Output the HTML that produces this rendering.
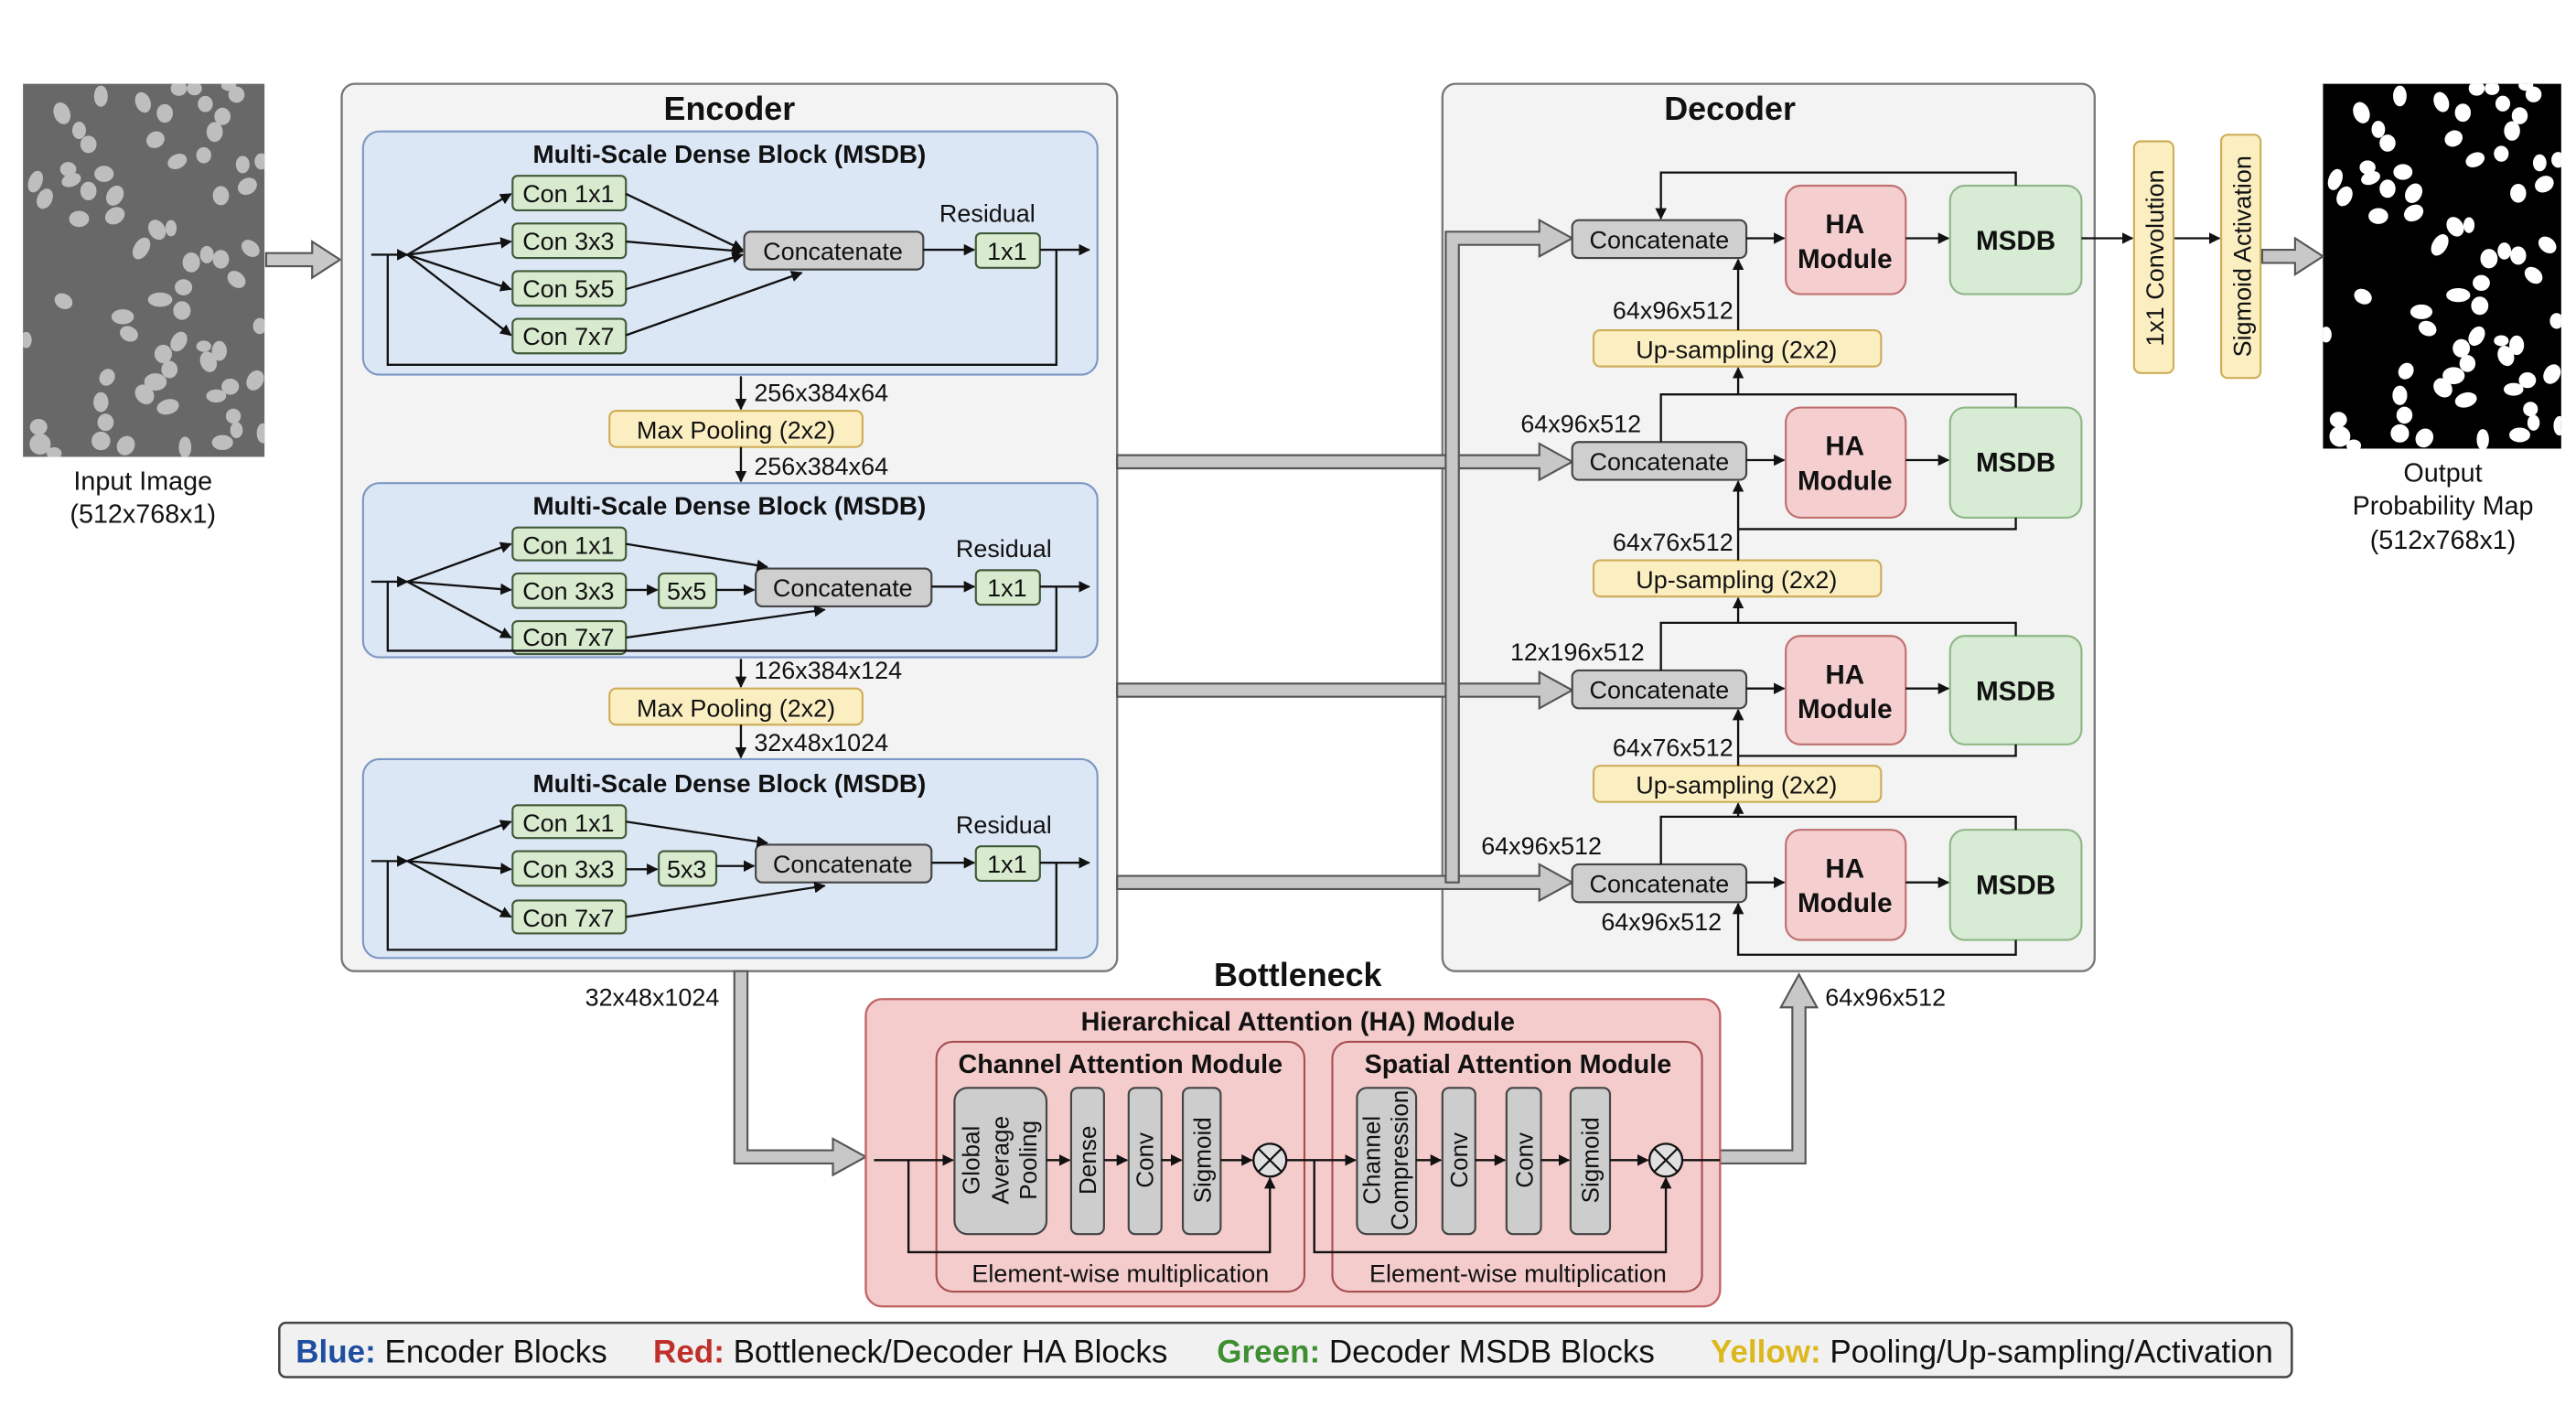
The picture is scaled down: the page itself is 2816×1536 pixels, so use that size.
<!DOCTYPE html>
<html><head><meta charset="utf-8"><style>
html,body{margin:0;padding:0;background:#fff;}
svg{display:block;}
text{font-family:"Liberation Sans",sans-serif;fill:#111;}
.b{font-weight:bold;}
</style></head><body>
<svg width="2816" height="1536" viewBox="0 0 1568 855" preserveAspectRatio="none" xmlns="http://www.w3.org/2000/svg">
<defs>
<marker id="ah" viewBox="0 0 10 10" refX="9" refY="5" markerWidth="7" markerHeight="7" orient="auto-start-reverse" markerUnits="userSpaceOnUse"><path d="M0,0 L10,5 L0,10 z" fill="#111"/></marker>
<g id="cells">
<ellipse cx="185" cy="130" rx="20" ry="30" transform="rotate(-20 185 130)"/>
<ellipse cx="310" cy="75" rx="16" ry="28"/>
<ellipse cx="445" cy="95" rx="18" ry="28" transform="rotate(-20 445 95)"/>
<ellipse cx="515" cy="130" rx="20" ry="24"/>
<ellipse cx="645" cy="100" rx="18" ry="20"/>
<ellipse cx="700" cy="140" rx="20" ry="22"/>
<ellipse cx="745" cy="70" rx="20" ry="20"/>
<ellipse cx="240" cy="185" rx="16" ry="22"/>
<ellipse cx="270" cy="230" rx="20" ry="22"/>
<ellipse cx="485" cy="215" rx="24" ry="20" transform="rotate(-30 485 215)"/>
<ellipse cx="675" cy="190" rx="20" ry="26"/>
<ellipse cx="555" cy="285" rx="26" ry="17" transform="rotate(-25 555 285)"/>
<ellipse cx="640" cy="265" rx="18" ry="20"/>
<ellipse cx="765" cy="295" rx="16" ry="22"/>
<ellipse cx="825" cy="285" rx="16" ry="20"/>
<ellipse cx="100" cy="350" rx="16" ry="30" transform="rotate(20 100 350)"/>
<ellipse cx="205" cy="310" rx="20" ry="17"/>
<ellipse cx="215" cy="345" rx="26" ry="15" transform="rotate(-20 215 345)"/>
<ellipse cx="320" cy="325" rx="25" ry="20"/>
<ellipse cx="270" cy="380" rx="20" ry="24"/>
<ellipse cx="355" cy="395" rx="20" ry="28" transform="rotate(30 355 395)"/>
<ellipse cx="130" cy="405" rx="18" ry="28" transform="rotate(25 130 405)"/>
<ellipse cx="355" cy="460" rx="20" ry="27" transform="rotate(60 355 460)"/>
<ellipse cx="240" cy="470" rx="26" ry="20"/>
<ellipse cx="695" cy="395" rx="20" ry="25"/>
<ellipse cx="780" cy="365" rx="26" ry="20" transform="rotate(-30 780 365)"/>
<ellipse cx="490" cy="505" rx="20" ry="28" transform="rotate(-30 490 505)"/>
<ellipse cx="535" cy="500" rx="12" ry="20"/>
<ellipse cx="440" cy="565" rx="18" ry="32" transform="rotate(30 440 565)"/>
<ellipse cx="600" cy="610" rx="22" ry="26"/>
<ellipse cx="650" cy="585" rx="16" ry="22"/>
<ellipse cx="695" cy="600" rx="20" ry="24"/>
<ellipse cx="790" cy="565" rx="18" ry="26" transform="rotate(-50 790 565)"/>
<ellipse cx="745" cy="665" rx="18" ry="26" transform="rotate(-50 745 665)"/>
<ellipse cx="575" cy="690" rx="22" ry="20"/>
<ellipse cx="190" cy="735" rx="24" ry="18" transform="rotate(30 190 735)"/>
<ellipse cx="500" cy="730" rx="33" ry="17"/>
<ellipse cx="570" cy="765" rx="22" ry="24"/>
<ellipse cx="380" cy="785" rx="30" ry="18"/>
<ellipse cx="400" cy="840" rx="24" ry="18" transform="rotate(25 400 840)"/>
<ellipse cx="820" cy="815" rx="16" ry="20"/>
<ellipse cx="560" cy="865" rx="18" ry="28" transform="rotate(30 560 865)"/>
<ellipse cx="640" cy="880" rx="18" ry="12"/>
<ellipse cx="690" cy="895" rx="18" ry="26"/>
<ellipse cx="510" cy="905" rx="22" ry="24"/>
<ellipse cx="655" cy="930" rx="20" ry="28" transform="rotate(-20 655 930)"/>
<ellipse cx="530" cy="955" rx="20" ry="22"/>
<ellipse cx="330" cy="980" rx="18" ry="22" transform="rotate(30 330 980)"/>
<ellipse cx="485" cy="995" rx="30" ry="22"/>
<ellipse cx="450" cy="1035" rx="22" ry="28" transform="rotate(-40 450 1035)"/>
<ellipse cx="525" cy="1075" rx="30" ry="18" transform="rotate(-15 525 1075)"/>
<ellipse cx="805" cy="990" rx="20" ry="28" transform="rotate(30 805 990)"/>
<ellipse cx="725" cy="1010" rx="22" ry="20"/>
<ellipse cx="680" cy="1040" rx="26" ry="15"/>
<ellipse cx="310" cy="1060" rx="18" ry="26"/>
<ellipse cx="325" cy="1125" rx="20" ry="22"/>
<ellipse cx="735" cy="1105" rx="18" ry="18"/>
<ellipse cx="745" cy="1150" rx="14" ry="20"/>
<ellipse cx="110" cy="1140" rx="22" ry="20"/>
<ellipse cx="115" cy="1195" rx="28" ry="28"/>
<ellipse cx="310" cy="1185" rx="24" ry="24"/>
<ellipse cx="390" cy="1200" rx="22" ry="26" transform="rotate(30 390 1200)"/>
<ellipse cx="580" cy="1205" rx="14" ry="28"/>
<ellipse cx="700" cy="1190" rx="28" ry="18"/>
<ellipse cx="830" cy="1160" rx="14" ry="26"/>
<ellipse cx="560" cy="50" rx="20" ry="18"/>
<ellipse cx="610" cy="50" rx="18" ry="16"/>
<ellipse cx="720" cy="40" rx="18" ry="12"/>
<ellipse cx="70" cy="860" rx="12" ry="20"/>
<ellipse cx="160" cy="1225" rx="18" ry="14"/>
</g>
</defs>

<!-- Input image -->
<rect x="14" y="51" width="147" height="227" fill="#686868"/>
<svg x="14" y="51" width="147" height="227" viewBox="0 0 147 227" overflow="hidden">
<use href="#cells" fill="#bebebe" stroke="#bebebe" stroke-width="12" transform="scale(0.1897,0.189) translate(-60,-35)"/>
</svg>
<text x="87" y="298" font-size="16" text-anchor="middle">Input Image</text>
<text x="87" y="318" font-size="16" text-anchor="middle">(512x768x1)</text>

<!-- Output image -->
<rect x="1414" y="51" width="145" height="222" fill="#000"/>
<svg x="1414" y="51" width="145" height="222" viewBox="0 0 145 222" overflow="hidden">
<use href="#cells" fill="#fff" stroke="#fff" stroke-width="12" transform="scale(0.1871,0.185) translate(-60,-35)"/>
</svg>
<text x="1487" y="293" font-size="16" text-anchor="middle">Output</text>
<text x="1487" y="313" font-size="16" text-anchor="middle">Probability Map</text>
<text x="1487" y="334" font-size="16" text-anchor="middle">(512x768x1)</text>

<polygon points="162,154 190,154 190,147 207,158 190,169 190,162 162,162" fill="#c8c8c8" stroke="#555" stroke-width="1.2"/>

<!-- Encoder -->
<rect x="208" y="51" width="472" height="540" rx="8" fill="#f3f3f3" stroke="#777" stroke-width="1.3"/>
<text x="444" y="73" font-size="20" class="b" text-anchor="middle">Encoder</text>

<g font-size="15">
<rect x="221" y="80" width="447" height="148" rx="10" fill="#dce7f6" stroke="#7d98c4" stroke-width="1.2"/>
<text x="444" y="99" font-size="15.5" class="b" text-anchor="middle">Multi-Scale Dense Block (MSDB)</text>
<g fill="#d8ebcf" stroke="#3f5a38" stroke-width="1.2">
<rect x="312" y="107" width="69" height="21" rx="3"/>
<rect x="312" y="136" width="69" height="21" rx="3"/>
<rect x="312" y="165" width="69" height="21" rx="3"/>
<rect x="312" y="194" width="69" height="21" rx="3"/>
<rect x="594" y="142" width="39" height="21" rx="3"/>
</g>
<rect x="453" y="141" width="109" height="23" rx="4" fill="#cfcfcf" stroke="#444" stroke-width="1.2"/>
<text x="346" y="123" text-anchor="middle">Con 1x1</text>
<text x="346" y="152" text-anchor="middle">Con 3x3</text>
<text x="346" y="181" text-anchor="middle">Con 5x5</text>
<text x="346" y="210" text-anchor="middle">Con 7x7</text>
<text x="507" y="158" text-anchor="middle">Concatenate</text>
<text x="613" y="158" text-anchor="middle">1x1</text>
<text x="601" y="135" text-anchor="middle">Residual</text>
<g stroke="#111" stroke-width="1.3" fill="none" marker-end="url(#ah)">
<line x1="226" y1="155" x2="248" y2="155"/>
<line x1="248" y1="155" x2="311" y2="118"/>
<line x1="248" y1="155" x2="311" y2="147"/>
<line x1="248" y1="155" x2="311" y2="176"/>
<line x1="248" y1="155" x2="311" y2="204"/>
<line x1="381" y1="118" x2="452" y2="152"/>
<line x1="381" y1="147" x2="452" y2="153"/>
<line x1="381" y1="176" x2="452" y2="155"/>
<line x1="381" y1="204" x2="488" y2="166"/>
<line x1="562" y1="152" x2="593" y2="152"/>
<line x1="633" y1="152" x2="663" y2="152"/>
</g>
<polyline points="236,155 236,222 643,222 643,152" fill="none" stroke="#111" stroke-width="1.3"/>

<line x1="451" y1="229" x2="451" y2="249" stroke="#111" stroke-width="1.3" marker-end="url(#ah)"/>
<text x="459" y="244">256x384x64</text>
<rect x="371" y="250" width="154" height="22" rx="4" fill="#fbefc2" stroke="#cfae5a" stroke-width="1.2"/>
<text x="448" y="267" text-anchor="middle">Max Pooling (2x2)</text>
<line x1="451" y1="272" x2="451" y2="293" stroke="#111" stroke-width="1.3" marker-end="url(#ah)"/>
<text x="459" y="289">256x384x64</text>

<rect x="221" y="294" width="447" height="106" rx="10" fill="#dce7f6" stroke="#7d98c4" stroke-width="1.2"/>
<text x="444" y="313" font-size="15.5" class="b" text-anchor="middle">Multi-Scale Dense Block (MSDB)</text>
<g fill="#d8ebcf" stroke="#3f5a38" stroke-width="1.2">
<rect x="312" y="321" width="69" height="20" rx="3"/>
<rect x="312" y="349" width="69" height="21" rx="3"/>
<rect x="312" y="378" width="69" height="20" rx="3"/>
<rect x="401" y="349" width="35" height="21" rx="3"/>
<rect x="594" y="347" width="39" height="21" rx="3"/>
</g>
<rect x="460" y="346" width="107" height="23" rx="4" fill="#cfcfcf" stroke="#444" stroke-width="1.2"/>
<text x="346" y="337" text-anchor="middle">Con 1x1</text>
<text x="346" y="365" text-anchor="middle">Con 3x3</text>
<text x="346" y="393" text-anchor="middle">Con 7x7</text>
<text x="418" y="365" text-anchor="middle">5x5</text>
<text x="513" y="363" text-anchor="middle">Concatenate</text>
<text x="613" y="363" text-anchor="middle">1x1</text>
<text x="611" y="339" text-anchor="middle">Residual</text>
<g stroke="#111" stroke-width="1.3" fill="none" marker-end="url(#ah)">
<line x1="226" y1="354" x2="248" y2="354"/>
<line x1="248" y1="354" x2="311" y2="331"/>
<line x1="248" y1="354" x2="311" y2="359"/>
<line x1="248" y1="354" x2="311" y2="388"/>
<line x1="381" y1="331" x2="467" y2="345"/>
<line x1="381" y1="359" x2="400" y2="359"/>
<line x1="436" y1="359" x2="459" y2="359"/>
<line x1="381" y1="388" x2="502" y2="371"/>
<line x1="567" y1="357" x2="593" y2="357"/>
<line x1="633" y1="357" x2="663" y2="357"/>
</g>
<polyline points="236,354 236,396 643,396 643,357" fill="none" stroke="#111" stroke-width="1.3"/>

<line x1="451" y1="401" x2="451" y2="418" stroke="#111" stroke-width="1.3" marker-end="url(#ah)"/>
<text x="459" y="413">126x384x124</text>
<rect x="371" y="419" width="154" height="22" rx="4" fill="#fbefc2" stroke="#cfae5a" stroke-width="1.2"/>
<text x="448" y="436" text-anchor="middle">Max Pooling (2x2)</text>
<line x1="451" y1="441" x2="451" y2="461" stroke="#111" stroke-width="1.3" marker-end="url(#ah)"/>
<text x="459" y="457">32x48x1024</text>

<rect x="221" y="462" width="447" height="121" rx="10" fill="#dce7f6" stroke="#7d98c4" stroke-width="1.2"/>
<text x="444" y="482" font-size="15.5" class="b" text-anchor="middle">Multi-Scale Dense Block (MSDB)</text>
<g fill="#d8ebcf" stroke="#3f5a38" stroke-width="1.2">
<rect x="312" y="490" width="69" height="20" rx="3"/>
<rect x="312" y="518" width="69" height="21" rx="3"/>
<rect x="312" y="548" width="69" height="20" rx="3"/>
<rect x="401" y="518" width="35" height="21" rx="3"/>
<rect x="594" y="515" width="39" height="21" rx="3"/>
</g>
<rect x="460" y="514" width="107" height="23" rx="4" fill="#cfcfcf" stroke="#444" stroke-width="1.2"/>
<text x="346" y="506" text-anchor="middle">Con 1x1</text>
<text x="346" y="534" text-anchor="middle">Con 3x3</text>
<text x="346" y="564" text-anchor="middle">Con 7x7</text>
<text x="418" y="534" text-anchor="middle">5x3</text>
<text x="513" y="531" text-anchor="middle">Concatenate</text>
<text x="613" y="531" text-anchor="middle">1x1</text>
<text x="611" y="507" text-anchor="middle">Residual</text>
<g stroke="#111" stroke-width="1.3" fill="none" marker-end="url(#ah)">
<line x1="226" y1="524" x2="248" y2="524"/>
<line x1="248" y1="524" x2="311" y2="500"/>
<line x1="248" y1="524" x2="311" y2="529"/>
<line x1="248" y1="524" x2="311" y2="558"/>
<line x1="381" y1="500" x2="467" y2="513"/>
<line x1="381" y1="529" x2="400" y2="529"/>
<line x1="436" y1="527" x2="459" y2="527"/>
<line x1="381" y1="558" x2="502" y2="539"/>
<line x1="567" y1="525" x2="593" y2="525"/>
<line x1="633" y1="525" x2="663" y2="525"/>
</g>
<polyline points="236,524 236,578 643,578 643,525" fill="none" stroke="#111" stroke-width="1.3"/>
</g>

<!-- Decoder -->
<rect x="878" y="51" width="397" height="540" rx="8" fill="#f3f3f3" stroke="#777" stroke-width="1.3"/>
<text x="1053" y="73" font-size="20" class="b" text-anchor="middle">Decoder</text>

<g fill="#c8c8c8" stroke="#555" stroke-width="1.2">
<polygon points="680,277 937,277 937,270 957,281 937,292 937,285 680,285"/>
<polygon points="680,416 937,416 937,409 957,420 937,431 937,424 680,424"/>
<polygon points="680,533 937,533 937,526 957,537 937,548 937,541 680,541"/>
<polygon points="880,537 880,141 937,141 937,134 957,145 937,156 937,149 888,149 888,537"/>
</g>

<g font-size="15">
<g fill="#cfcfcf" stroke="#444" stroke-width="1.2">
<rect x="957" y="134" width="106" height="23" rx="4"/>
<rect x="957" y="269" width="106" height="23" rx="4"/>
<rect x="957" y="408" width="106" height="23" rx="4"/>
<rect x="957" y="526" width="106" height="23" rx="4"/>
</g>
<g fill="#f5cfcf" stroke="#c07070" stroke-width="1.2">
<rect x="1087" y="113" width="73" height="66" rx="9"/>
<rect x="1087" y="248" width="73" height="67" rx="9"/>
<rect x="1087" y="387" width="73" height="66" rx="9"/>
<rect x="1087" y="505" width="73" height="67" rx="9"/>
</g>
<g fill="#d8ecd5" stroke="#8fb787" stroke-width="1.2">
<rect x="1187" y="113" width="80" height="66" rx="9"/>
<rect x="1187" y="248" width="80" height="67" rx="9"/>
<rect x="1187" y="387" width="80" height="66" rx="9"/>
<rect x="1187" y="505" width="80" height="67" rx="9"/>
</g>
<g text-anchor="middle">
<text x="1010" y="151">Concatenate</text>
<text x="1010" y="286">Concatenate</text>
<text x="1010" y="425">Concatenate</text>
<text x="1010" y="543">Concatenate</text>
<g class="b" font-size="16.5">
<text x="1123" y="142">HA</text><text x="1123" y="163">Module</text>
<text x="1123" y="277">HA</text><text x="1123" y="298">Module</text>
<text x="1123" y="416">HA</text><text x="1123" y="437">Module</text>
<text x="1123" y="534">HA</text><text x="1123" y="555">Module</text>
<text x="1227" y="152">MSDB</text>
<text x="1227" y="287">MSDB</text>
<text x="1227" y="426">MSDB</text>
<text x="1227" y="544">MSDB</text>
</g>
</g>
<g fill="#fbefc2" stroke="#cfae5a" stroke-width="1.2">
<rect x="970" y="201" width="175" height="22" rx="4"/>
<rect x="970" y="341" width="175" height="22" rx="4"/>
<rect x="970" y="466" width="175" height="22" rx="4"/>
</g>
<g text-anchor="middle">
<text x="1057" y="218">Up-sampling (2x2)</text>
<text x="1057" y="358">Up-sampling (2x2)</text>
<text x="1057" y="483">Up-sampling (2x2)</text>
</g>
<text x="1055" y="194" text-anchor="end">64x96x512</text>
<text x="999" y="263" text-anchor="end">64x96x512</text>
<text x="1055" y="335" text-anchor="end">64x76x512</text>
<text x="1001" y="402" text-anchor="end">12x196x512</text>
<text x="1055" y="460" text-anchor="end">64x76x512</text>
<text x="975" y="520" text-anchor="end">64x96x512</text>
<text x="1048" y="566" text-anchor="end">64x96x512</text>

<g stroke="#111" stroke-width="1.3" fill="none">
<line x1="1063" y1="145" x2="1086" y2="145" marker-end="url(#ah)"/>
<line x1="1160" y1="145" x2="1186" y2="145" marker-end="url(#ah)"/>
<line x1="1063" y1="280" x2="1086" y2="280" marker-end="url(#ah)"/>
<line x1="1160" y1="280" x2="1186" y2="280" marker-end="url(#ah)"/>
<line x1="1063" y1="419" x2="1086" y2="419" marker-end="url(#ah)"/>
<line x1="1160" y1="419" x2="1186" y2="419" marker-end="url(#ah)"/>
<line x1="1063" y1="537" x2="1086" y2="537" marker-end="url(#ah)"/>
<line x1="1160" y1="537" x2="1186" y2="537" marker-end="url(#ah)"/>
<polyline points="1227,113 1227,105 1011,105 1011,133" marker-end="url(#ah)"/>
<line x1="1058" y1="201" x2="1058" y2="158" marker-end="url(#ah)"/>
<polyline points="1227,248 1227,240 1011,240 1011,269"/>
<line x1="1058" y1="240" x2="1058" y2="224" marker-end="url(#ah)"/>
<polyline points="1227,315 1227,322 1058,322"/>
<line x1="1058" y1="341" x2="1058" y2="293" marker-end="url(#ah)"/>
<polyline points="1227,387 1227,379 1011,379 1011,408"/>
<line x1="1058" y1="379" x2="1058" y2="364" marker-end="url(#ah)"/>
<polyline points="1227,453 1227,460 1058,460"/>
<line x1="1058" y1="466" x2="1058" y2="432" marker-end="url(#ah)"/>
<polyline points="1227,505 1227,497 1011,497 1011,526"/>
<line x1="1058" y1="497" x2="1058" y2="489" marker-end="url(#ah)"/>
<polyline points="1227,572 1227,581 1058,581 1058,550" marker-end="url(#ah)"/>
<line x1="1267" y1="145" x2="1298" y2="145" marker-end="url(#ah)"/>
<line x1="1323" y1="145" x2="1351" y2="145" marker-end="url(#ah)"/>
</g>
</g>

<rect x="1299" y="86" width="24" height="141" rx="4" fill="#fbefc2" stroke="#cfae5a" stroke-width="1.2"/>
<text transform="translate(1317,157) rotate(-90)" font-size="15" text-anchor="middle">1x1 Convolution</text>
<rect x="1352" y="82" width="24" height="148" rx="4" fill="#fbefc2" stroke="#cfae5a" stroke-width="1.2"/>
<text transform="translate(1370,156) rotate(-90)" font-size="15" text-anchor="middle">Sigmoid Activation</text>
<polygon points="1377,152 1397,152 1397,145 1414,156 1397,167 1397,160 1377,160" fill="#c8c8c8" stroke="#555" stroke-width="1.2"/>

<!-- Bottleneck -->
<text x="790" y="600" font-size="20" class="b" text-anchor="middle">Bottleneck</text>
<text x="397" y="612" font-size="15" text-anchor="middle">32x48x1024</text>
<polygon points="447,591 455,591 455,700 507,700 507,693 527,704 507,715 507,708 447,708" fill="#c8c8c8" stroke="#555" stroke-width="1.2"/>
<polygon points="1047,700 1091,700 1091,613 1084,613 1095,593 1106,613 1099,613 1099,708 1047,708" fill="#c8c8c8" stroke="#555" stroke-width="1.2"/>
<text x="1111" y="612" font-size="15">64x96x512</text>

<rect x="527" y="608" width="520" height="187" rx="10" fill="#f5cccc" stroke="#c06464" stroke-width="1.3"/>
<text x="790" y="627" font-size="16" class="b" text-anchor="middle">Hierarchical Attention (HA) Module</text>
<rect x="570" y="634" width="224" height="152" rx="10" fill="#f5cccc" stroke="#a85050" stroke-width="1.2"/>
<rect x="811" y="634" width="225" height="152" rx="10" fill="#f5cccc" stroke="#a85050" stroke-width="1.2"/>
<text x="682" y="653" font-size="16" class="b" text-anchor="middle">Channel Attention Module</text>
<text x="924" y="653" font-size="16" class="b" text-anchor="middle">Spatial Attention Module</text>
<g fill="#cdcdcd" stroke="#444" stroke-width="1.2">
<rect x="581" y="662" width="56" height="89" rx="8"/>
<rect x="652" y="662" width="20" height="89" rx="4"/>
<rect x="687" y="662" width="20" height="89" rx="4"/>
<rect x="720" y="662" width="23" height="89" rx="4"/>
<rect x="826" y="662" width="36" height="89" rx="6"/>
<rect x="878" y="662" width="20" height="89" rx="4"/>
<rect x="917" y="662" width="21" height="89" rx="4"/>
<rect x="956" y="662" width="24" height="89" rx="4"/>
</g>
<g font-size="14.5" text-anchor="middle">
<text transform="translate(596,706) rotate(-90)">Global</text>
<text transform="translate(614,706) rotate(-90)">Average</text>
<text transform="translate(631,706) rotate(-90)">Pooling</text>
<text transform="translate(667,706) rotate(-90)">Dense</text>
<text transform="translate(702,706) rotate(-90)">Conv</text>
<text transform="translate(737,706) rotate(-90)">Sigmoid</text>
<text transform="translate(840,706) rotate(-90)">Channel</text>
<text transform="translate(857,706) rotate(-90)">Compression</text>
<text transform="translate(893,706) rotate(-90)">Conv</text>
<text transform="translate(933,706) rotate(-90)">Conv</text>
<text transform="translate(973,706) rotate(-90)">Sigmoid</text>
</g>
<g stroke="#111" stroke-width="1.3" fill="none">
<line x1="532" y1="706" x2="580" y2="706" marker-end="url(#ah)"/>
<line x1="637" y1="706" x2="651" y2="706" marker-end="url(#ah)"/>
<line x1="672" y1="706" x2="686" y2="706" marker-end="url(#ah)"/>
<line x1="707" y1="706" x2="719" y2="706" marker-end="url(#ah)"/>
<line x1="743" y1="706" x2="762" y2="706" marker-end="url(#ah)"/>
<polyline points="553,706 553,762 773,762 773,717" marker-end="url(#ah)"/>
<line x1="783" y1="706" x2="825" y2="706" marker-end="url(#ah)"/>
<line x1="862" y1="706" x2="877" y2="706" marker-end="url(#ah)"/>
<line x1="898" y1="706" x2="916" y2="706" marker-end="url(#ah)"/>
<line x1="938" y1="706" x2="955" y2="706" marker-end="url(#ah)"/>
<line x1="980" y1="706" x2="1003" y2="706" marker-end="url(#ah)"/>
<polyline points="800,706 800,762 1014,762 1014,717" marker-end="url(#ah)"/>
<line x1="1024" y1="706" x2="1047" y2="706"/>
</g>
<g fill="#e0e0e0" stroke="#111" stroke-width="1.3">
<circle cx="773" cy="706" r="10"/>
<circle cx="1014" cy="706" r="10"/>
</g>
<g stroke="#111" stroke-width="1.2">
<line x1="766" y1="699" x2="780" y2="713"/><line x1="780" y1="699" x2="766" y2="713"/>
<line x1="1007" y1="699" x2="1021" y2="713"/><line x1="1021" y1="699" x2="1007" y2="713"/>
</g>
<text x="682" y="780" font-size="15" text-anchor="middle">Element-wise multiplication</text>
<text x="924" y="780" font-size="15" text-anchor="middle">Element-wise multiplication</text>

<!-- Legend -->
<rect x="170" y="805" width="1225" height="33" rx="4" fill="#f1f1f1" stroke="#444" stroke-width="1.4"/>
<text x="180" y="829" font-size="19.5"><tspan class="b" style="fill:#1f4ea0">Blue:</tspan> Encoder Blocks<tspan dx="28" class="b" style="fill:#c0302a">Red:</tspan> Bottleneck/Decoder HA Blocks<tspan dx="30" class="b" style="fill:#3f8f32">Green:</tspan> Decoder MSDB Blocks<tspan dx="34" class="b" style="fill:#dcb820">Yellow:</tspan> Pooling/Up-sampling/Activation</text>
</svg>
</body></html>
